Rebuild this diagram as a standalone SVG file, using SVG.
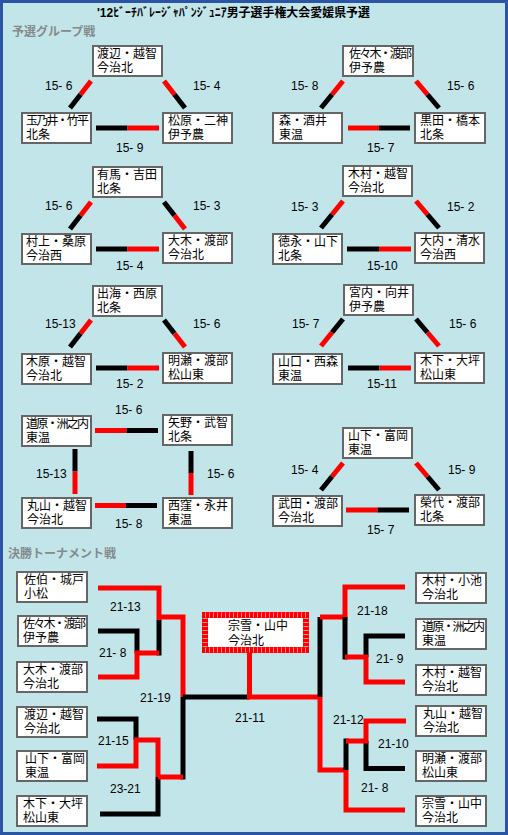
<svg xmlns="http://www.w3.org/2000/svg" width="508" height="835" viewBox="0 0 508 835">
<style>
.bx{fill:#fff;stroke:#666;stroke-width:2}
.t{font-family:"Liberation Sans","Noto Sans CJK JP","Noto Sans CJK SC",sans-serif;font-size:12px;fill:#000}
.n6{letter-spacing:-1.8px}
.s{font-family:"Liberation Sans",Arial,sans-serif;font-size:12px;fill:#000}
.h{font-family:"Noto Sans CJK JP",sans-serif;font-size:12px;font-weight:bold;fill:#858a8b}
.r{stroke:#f00;stroke-width:5;fill:none}
.k{stroke:#000;stroke-width:5;fill:none}
</style>
<rect x="1.5" y="1.5" width="505" height="832" fill="#c2e5ea" stroke="#2a55a5" stroke-width="3"/>
<text class="t" x="97" y="17" font-weight="bold" textLength="273" lengthAdjust="spacingAndGlyphs">'12ﾋﾞｰﾁﾊﾞﾚｰｼﾞｬﾊﾟﾝｼﾞｭﾆｱ男子選手権大会愛媛県予選</text>
<text class="h" x="12" y="36">予選グループ戦</text>
<text class="h" x="8" y="558">決勝トーナメント戦</text>

<g id="connectors">
<path class="r" d="M91,81L80.5,94.5"/><path class="k" d="M80.5,94.5L70,108"/>
<path class="r" d="M164,81L174.5,94.5"/><path class="k" d="M174.5,94.5L185,108"/>
<path class="k" d="M96,128H127.5"/><path class="r" d="M127.5,128H159"/>
<path class="r" d="M343,81L332,94.5"/><path class="k" d="M332,94.5L321,108"/>
<path class="r" d="M416,81L427.5,94.5"/><path class="k" d="M427.5,94.5L439,108"/>
<path class="r" d="M348,128H379"/><path class="k" d="M379,128H410"/>
<path class="r" d="M91,202L80.5,215.5"/><path class="k" d="M80.5,215.5L70,229"/>
<path class="k" d="M164,202L174.5,215.5"/><path class="r" d="M174.5,215.5L185,229"/>
<path class="k" d="M96,249H127.5"/><path class="r" d="M127.5,249H159"/>
<path class="r" d="M343,201L332,214.5"/><path class="k" d="M332,214.5L321,228"/>
<path class="r" d="M416,201L427.5,214.5"/><path class="k" d="M427.5,214.5L439,228"/>
<path class="k" d="M347,249H379"/><path class="r" d="M379,249H411"/>
<path class="r" d="M91,320L80.5,333.5"/><path class="k" d="M80.5,333.5L70,347"/>
<path class="k" d="M164,320L174.5,333.5"/><path class="r" d="M174.5,333.5L185,347"/>
<path class="k" d="M96,368H127.5"/><path class="r" d="M127.5,368H159"/>
<path class="k" d="M343,319L332,332.5"/><path class="r" d="M332,332.5L321,346"/>
<path class="k" d="M416,319L427.5,332.5"/><path class="r" d="M427.5,332.5L439,346"/>
<path class="k" d="M348,368H379.5"/><path class="r" d="M379.5,368H411"/>
<path class="r" d="M95,430.5H126.5"/><path class="k" d="M126.5,430.5H158"/>
<path class="r" d="M95,505.5H126"/><path class="k" d="M126,505.5H157"/>
<path class="k" d="M75,449V471.5"/><path class="r" d="M75,471.5V494"/>
<path class="k" d="M191,451V473"/><path class="r" d="M191,473V495"/>
<path class="r" d="M343,463L332,476.5"/><path class="k" d="M332,476.5L321,490"/>
<path class="r" d="M416,463L427.5,476.5"/><path class="k" d="M427.5,476.5L439,490"/>
<path class="r" d="M346,510H377.5"/><path class="k" d="M377.5,510H409"/>

<path class="k" d="M98,631H137V653"/>
<path class="k" d="M159,620V655.5"/>
<path class="r" d="M98,677H137V653H159"/>
<path class="r" d="M98,588H159V620"/>
<path class="r" d="M159,617H183V697"/>
<path class="k" d="M97,719H136V740"/>
<path class="k" d="M100,814H158V777"/>
<path class="r" d="M97,766H136V740H158V777"/>
<path class="k" d="M183,697V779.5"/>
<path class="r" d="M158,777H183"/>
<path class="k" d="M183,697H249.5"/>
<path class="r" d="M249.5,653V697H320"/>
<path class="k" d="M320,617V697"/>
<path class="r" d="M405,587H345V617H320"/>
<path class="k" d="M345,617V659.5"/>
<path class="k" d="M405,636H366V657"/>
<path class="r" d="M405,682H366V657H345"/>
<path class="r" d="M320,697V770H346"/>
<path class="k" d="M405,768.5H366V741"/>
<path class="k" d="M346,738.5V770"/>
<path class="r" d="M406,721H366V741H346"/>
<path class="r" d="M346,770V810H405"/>
</g>

<g id="labels">
<text class="s" x="45" y="90">15- 6</text><text class="s" x="193" y="90">15- 4</text><text class="s" x="116" y="152">15- 9</text>
<text class="s" x="291" y="90">15- 8</text><text class="s" x="447" y="90">15- 6</text><text class="s" x="367" y="152">15- 7</text>
<text class="s" x="45" y="210">15- 6</text><text class="s" x="193" y="210">15- 3</text><text class="s" x="116" y="270">15- 4</text>
<text class="s" x="291" y="211">15- 3</text><text class="s" x="447" y="211">15- 2</text><text class="s" x="367" y="270">15-10</text>
<text class="s" x="45" y="328">15-13</text><text class="s" x="193" y="328">15- 6</text><text class="s" x="116" y="388">15- 2</text>
<text class="s" x="292" y="328">15- 7</text><text class="s" x="449" y="328">15- 6</text><text class="s" x="367" y="388">15-11</text>
<text class="s" x="115" y="414">15- 6</text><text class="s" x="36" y="478">15-13</text><text class="s" x="207" y="478">15- 6</text><text class="s" x="115" y="528">15- 8</text>
<text class="s" x="291" y="474">15- 4</text><text class="s" x="448" y="474">15- 9</text><text class="s" x="367" y="534">15- 7</text>
<text class="s" x="110" y="611">21-13</text><text class="s" x="99" y="657">21- 8</text><text class="s" x="140" y="702">21-19</text>
<text class="s" x="98" y="745">21-15</text><text class="s" x="110" y="793">23-21</text><text class="s" x="235" y="722">21-11</text>
<text class="s" x="357" y="615">21-18</text><text class="s" x="376" y="663">21- 9</text><text class="s" x="333" y="724">21-12</text>
<text class="s" x="378" y="748">21-10</text><text class="s" x="361" y="792">21- 8</text>
</g>

<g id="n-l1-t"><rect class="bx" x="93" y="46" width="69" height="30"/><text class="t"><tspan x="97" y="58">渡辺・越智</tspan><tspan x="97" y="72">今治北</tspan></text></g>
<g id="n-l1-bl"><rect class="bx" x="22" y="113" width="69" height="30"/><text class="t"><tspan class="n6" x="26" y="125">玉乃井・竹平</tspan><tspan x="26" y="139">北条</tspan></text></g>
<g id="n-l1-br"><rect class="bx" x="163" y="113" width="69" height="30"/><text class="t"><tspan x="168" y="125">松原・二神</tspan><tspan x="168" y="139">伊予農</tspan></text></g>

<g id="n-r1-t"><rect class="bx" x="343" y="46" width="70" height="30"/><text class="t"><tspan class="n6" x="349" y="58">佐々木・渡部</tspan><tspan x="349" y="72">伊予農</tspan></text></g>
<g id="n-r1-bl"><rect class="bx" x="273" y="113" width="69" height="30"/><text class="t"><tspan x="279" y="125">森・酒井</tspan><tspan x="279" y="139">東温</tspan></text></g>
<g id="n-r1-br"><rect class="bx" x="415" y="113" width="70" height="30"/><text class="t"><tspan x="420" y="125">黒田・橋本</tspan><tspan x="420" y="139">北条</tspan></text></g>

<g id="n-l2-t"><rect class="bx" x="93" y="167" width="69" height="30"/><text class="t"><tspan x="97" y="179">有馬・吉田</tspan><tspan x="97" y="193">北条</tspan></text></g>
<g id="n-l2-bl"><rect class="bx" x="22" y="234" width="69" height="30"/><text class="t"><tspan x="26" y="246">村上・桑原</tspan><tspan x="26" y="260">今治西</tspan></text></g>
<g id="n-l2-br"><rect class="bx" x="163" y="233" width="69" height="30"/><text class="t"><tspan x="168" y="245">大木・渡部</tspan><tspan x="168" y="259">今治北</tspan></text></g>

<g id="n-r2-t"><rect class="bx" x="343" y="166" width="69" height="30"/><text class="t"><tspan x="348" y="178">木村・越智</tspan><tspan x="348" y="192">今治北</tspan></text></g>
<g id="n-r2-bl"><rect class="bx" x="273" y="234" width="69" height="30"/><text class="t"><tspan x="278" y="246">徳永・山下</tspan><tspan x="278" y="260">北条</tspan></text></g>
<g id="n-r2-br"><rect class="bx" x="415" y="233" width="69" height="30"/><text class="t"><tspan x="420" y="245">大内・清水</tspan><tspan x="420" y="259">今治西</tspan></text></g>

<g id="n-l3-t"><rect class="bx" x="93" y="286" width="69" height="30"/><text class="t"><tspan x="97" y="298">出海・西原</tspan><tspan x="97" y="312">北条</tspan></text></g>
<g id="n-l3-bl"><rect class="bx" x="22" y="354" width="69" height="30"/><text class="t"><tspan x="26" y="366">木原・越智</tspan><tspan x="26" y="380">今治北</tspan></text></g>
<g id="n-l3-br"><rect class="bx" x="163" y="353" width="69" height="30"/><text class="t"><tspan x="168" y="365">明瀬・渡部</tspan><tspan x="168" y="379">松山東</tspan></text></g>

<g id="n-r3-t"><rect class="bx" x="344" y="285" width="69" height="30"/><text class="t"><tspan x="349" y="297">宮内・向井</tspan><tspan x="349" y="311">伊予農</tspan></text></g>
<g id="n-r3-bl"><rect class="bx" x="273" y="354" width="69" height="30"/><text class="t"><tspan x="278" y="366">山口・西森</tspan><tspan x="278" y="380">東温</tspan></text></g>
<g id="n-r3-br"><rect class="bx" x="415" y="353" width="69" height="30"/><text class="t"><tspan x="420" y="365">木下・大坪</tspan><tspan x="420" y="379">松山東</tspan></text></g>

<g id="n-l4-tl"><rect class="bx" x="22" y="416" width="69" height="30"/><text class="t"><tspan class="n6" x="26" y="428">道原・洲之内</tspan><tspan x="26" y="442">東温</tspan></text></g>
<g id="n-l4-tr"><rect class="bx" x="163" y="415" width="69" height="30"/><text class="t"><tspan x="168" y="427">矢野・武智</tspan><tspan x="168" y="441">北条</tspan></text></g>
<g id="n-l4-bl"><rect class="bx" x="22" y="498" width="69" height="30"/><text class="t"><tspan x="27" y="510">丸山・越智</tspan><tspan x="27" y="524">今治北</tspan></text></g>
<g id="n-l4-br"><rect class="bx" x="163" y="498" width="69" height="30"/><text class="t"><tspan x="168" y="510">西窪・永井</tspan><tspan x="168" y="524">東温</tspan></text></g>

<g id="n-r4-t"><rect class="bx" x="343" y="428" width="69" height="30"/><text class="t"><tspan x="348" y="440">山下・富岡</tspan><tspan x="348" y="454">東温</tspan></text></g>
<g id="n-r4-bl"><rect class="bx" x="273" y="496" width="69" height="30"/><text class="t"><tspan x="278" y="508">武田・渡部</tspan><tspan x="278" y="522">今治北</tspan></text></g>
<g id="n-r4-br"><rect class="bx" x="415" y="495" width="69" height="30"/><text class="t"><tspan x="420" y="507">榮代・渡部</tspan><tspan x="420" y="521">北条</tspan></text></g>

<g id="t-l1"><rect class="bx" x="17" y="572" width="70" height="30"/><text class="t"><tspan x="24" y="584">佐伯・城戸</tspan><tspan x="24" y="598">小松</tspan></text></g>
<g id="t-l2"><rect class="bx" x="18" y="616" width="69" height="30"/><text class="t"><tspan class="n6" x="23" y="628">佐々木・渡部</tspan><tspan x="23" y="642">伊予農</tspan></text></g>
<g id="t-l3"><rect class="bx" x="17" y="662" width="70" height="30"/><text class="t"><tspan x="23" y="674">大木・渡部</tspan><tspan x="23" y="688">今治北</tspan></text></g>
<g id="t-l4"><rect class="bx" x="17" y="707" width="70" height="30"/><text class="t"><tspan x="24" y="719">渡辺・越智</tspan><tspan x="24" y="733">今治北</tspan></text></g>
<g id="t-l5"><rect class="bx" x="17" y="751" width="70" height="30"/><text class="t"><tspan x="25" y="763">山下・富岡</tspan><tspan x="25" y="777">東温</tspan></text></g>
<g id="t-l6"><rect class="bx" x="17" y="796" width="70" height="30"/><text class="t"><tspan x="23" y="808">木下・大坪</tspan><tspan x="23" y="822">松山東</tspan></text></g>

<g id="t-r1"><rect class="bx" x="416" y="573" width="70" height="30"/><text class="t"><tspan x="422" y="585">木村・小池</tspan><tspan x="422" y="599">今治北</tspan></text></g>
<g id="t-r2"><rect class="bx" x="416" y="619" width="70" height="30"/><text class="t"><tspan class="n6" x="422" y="631">道原・洲之内</tspan><tspan x="422" y="645">東温</tspan></text></g>
<g id="t-r3"><rect class="bx" x="416" y="665" width="70" height="30"/><text class="t"><tspan x="422" y="677">木村・越智</tspan><tspan x="422" y="691">今治北</tspan></text></g>
<g id="t-r4"><rect class="bx" x="416" y="706" width="70" height="30"/><text class="t"><tspan x="423" y="718">丸山・越智</tspan><tspan x="423" y="732">今治北</tspan></text></g>
<g id="t-r5"><rect class="bx" x="416" y="751" width="70" height="30"/><text class="t"><tspan x="422" y="763">明瀬・渡部</tspan><tspan x="422" y="777">松山東</tspan></text></g>
<g id="t-r6"><rect class="bx" x="416" y="796" width="70" height="30"/><text class="t"><tspan x="422" y="808">宗雪・山中</tspan><tspan x="422" y="822">今治北</tspan></text></g>

<g id="champion"><rect x="205" y="615" width="101" height="35" fill="#fff" stroke="#f00" stroke-width="6"/><rect x="205" y="615" width="101" height="35" fill="none" stroke="#ff9090" stroke-width="5" stroke-dasharray="1 3"/><text class="t"><tspan x="228" y="630">宗雪・山中</tspan><tspan x="228" y="645">今治北</tspan></text></g>
</svg>
